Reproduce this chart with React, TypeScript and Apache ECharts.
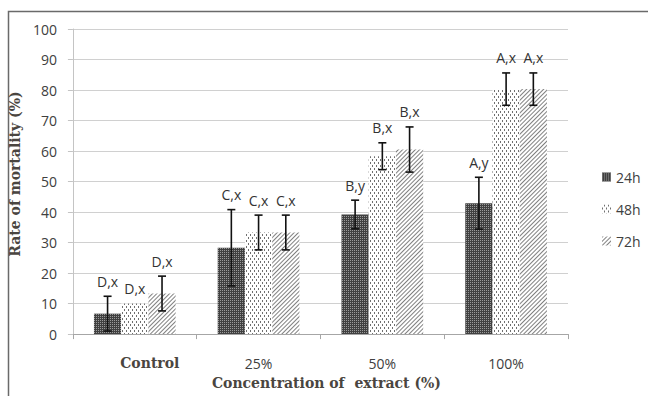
import React, { useEffect, useRef } from "react";
import * as echarts from "echarts";

const categories = ["Control", "25%", "50%", "100%"];
const seriesNames = ["24h", "48h", "72h"];
const mean24 = [6.7, 28.3, 39.2, 42.9];
const mean48 = [10, 33.3, 58.3, 80.3];
const mean72 = [13.3, 33.3, 60.5, 80.3];
const err24 = [5.7, 12.5, 4.7, 8.5];
const err48 = [0, 5.7, 4.4, 5.3];
const err72 = [5.7, 5.7, 7.4, 5.3];
const letters24 = ["D,x", "C,x", "B,y", "A,y"];
const letters48 = ["D,x", "C,x", "B,x", "A,x"];
const letters72 = ["D,x", "C,x", "B,x", "A,x"];
const yTicks = [0, 10, 20, 30, 40, 50, 60, 70, 80, 90, 100];

const SANS = "'Open Sans', 'Liberation Sans', sans-serif";
const SERIF = "'DejaVu Serif', 'Liberation Serif', serif";

export default function App() {
  const ref = useRef<HTMLDivElement>(null);
  useEffect(() => {
    if (!ref.current) return;
    const chart = echarts.init(ref.current, null, { renderer: "svg" });
    const means = [mean24, mean48, mean72];
    const errs = [err24, err48, err72];
    const letters = [letters24, letters48, letters72];
    const errData: any[] = [];
    const errLabels: string[] = [];
    for (let s = 0; s < 3; s++) {
      for (let c = 0; c < categories.length; c++) {
        errData.push([c, means[s][c], errs[s][c], s]);
        errLabels.push(letters[s][c]);
      }
    }
    const barGapRatio = 0.34;
    const styles: any[] = [
      {
        color: "#404040",
        decal: {
          symbol: "rect",
          symbolSize: 1,
          color: "#9a9a9a",
          dashArrayX: [1, 1],
          dashArrayY: [1, 1],
          rotation: 0,
        },
      },
      {
        color: "#ffffff",
        decal: {
          symbol: "rect",
          symbolSize: 1,
          color: "#707070",
          dashArrayX: [
            [1, 3],
            [0, 2, 1, 1],
          ],
          dashArrayY: [2, 1],
          rotation: 0,
        },
      },
      {
        color: "#ffffff",
        decal: {
          symbol: "rect",
          symbolSize: 1,
          color: "#808080",
          dashArrayX: [1, 0],
          dashArrayY: [1, 2],
          rotation: -Math.PI / 4,
        },
      },
    ];
    const option: any = {
      animation: false,
      backgroundColor: "#ffffff",
      grid: { left: 70, right: 80, top: 29, bottom: 54 },
      legend: {
        orient: "vertical",
        left: 597,
        top: 163,
        data: seriesNames,
        itemWidth: 9,
        itemHeight: 9,
        itemGap: 14,
        icon: "rect",
        textStyle: { fontFamily: SANS, fontSize: 14, color: "#404040", lineHeight: 18 },
      },
      xAxis: {
        type: "category",
        data: categories,
        boundaryGap: true,
        axisLine: { show: true, lineStyle: { color: "#a6a6a6", width: 1 } },
        axisTick: { show: true, length: 5, lineStyle: { color: "#a6a6a6" } },
        axisLabel: {
          margin: 22,
          fontFamily: SANS,
          fontSize: 14,
          color: "#404040",
          formatter: (v: string) => (v === "Control" ? "{ctrl|" + v + "}" : v),
          rich: {
            ctrl: {
              fontFamily: SERIF,
              fontWeight: "bold",
              fontSize: 14,
              color: "#4a4540",
              padding: [0, 0, 6, 30],
            },
          },
        },
        name: "Concentration of  extract (%)",
        nameLocation: "middle",
        nameGap: 40,
        nameTextStyle: {
          fontFamily: SERIF,
          fontWeight: "bold",
          fontSize: 14,
          color: "#4a4540",
          lineHeight: 16,
          padding: [0, 0, 0, 12],
        },
      },
      yAxis: {
        type: "value",
        min: 0,
        max: 100,
        interval: 10,
        axisLine: { show: true, lineStyle: { color: "#c4c4c4", width: 1 } },
        axisTick: { show: true, length: 5, lineStyle: { color: "#c4c4c4" } },
        splitLine: { show: true, lineStyle: { color: "#d0d0d0", width: 1.2 } },
        axisLabel: {
          margin: 16,
          fontFamily: SANS,
          fontSize: 14,
          color: "#404040",
          formatter: (v: number) => (yTicks.indexOf(v) >= 0 ? String(v) : ""),
        },
        name: "Rate of mortality (%)",
        nameLocation: "middle",
        nameGap: 43,
        nameRotate: 90,
        nameTextStyle: {
          fontFamily: SERIF,
          fontWeight: "bold",
          fontSize: 14,
          color: "#4a4540",
          padding: [0, 0, 0, 15],
        },
      },
      graphic: [
        {
          type: "rect",
          silent: true,
          z: -10,
          shape: { x: 8.5, y: 11.5, width: 700, height: 500 },
          style: { fill: "none", stroke: "#6a6a6a", lineWidth: 1.5 },
        },
      ],
      series: [
        ...seriesNames.map((n, i) => ({
          name: n,
          type: "bar",
          data: means[i],
          barGap: "0%",
          barCategoryGap: barGapRatio * 100 + "%",
          itemStyle: styles[i],
          emphasis: { disabled: true },
        })),
        {
          type: "custom",
          name: "errors",
          z: 10,
          data: errData,
          encode: { x: 0, y: 1 },
          renderItem: (params: any, api: any) => {
            const c = api.value(0);
            const m = api.value(1);
            const e = api.value(2);
            const s = api.value(3);
            const band = api.size([1, 0])[0];
            const barW = (band * (1 - barGapRatio)) / 3;
            const base = api.coord([c, m]);
            const x = base[0] + (s - 1) * barW;
            const yTop = api.coord([c, m + e])[1];
            const yBot = api.coord([c, m - e])[1];
            const children: any[] = [];
            const ls = { stroke: "#111", lineWidth: 1.6 };
            if (e > 0) {
              children.push({ type: "line", shape: { x1: x, y1: yTop, x2: x, y2: yBot }, style: ls });
              children.push({ type: "line", shape: { x1: x - 4, y1: yTop, x2: x + 4, y2: yTop }, style: ls });
              children.push({ type: "line", shape: { x1: x - 4, y1: yBot, x2: x + 4, y2: yBot }, style: ls });
            }
            children.push({
              type: "text",
              x: x,
              y: yTop - 15,
              style: {
                text: errLabels[params.dataIndex],
                fontFamily: SANS,
                fontSize: 14,
                fill: "#333333",
                align: "center",
                verticalAlign: "middle",
              },
            });
            return { type: "group", children };
          },
        },
      ],
    };
    chart.setOption(option);
    return () => chart.dispose();
  }, []);
  return (
    <div
      ref={ref}
      style={{ position: "fixed", left: 0, top: 0, width: 648, height: 396 }}
    />
  );
}
